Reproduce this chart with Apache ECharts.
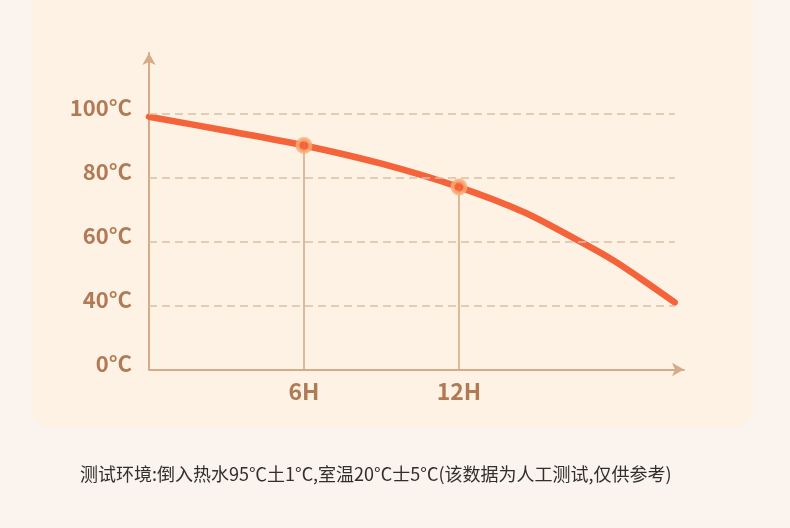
<!DOCTYPE html>
<html>
<head>
<meta charset="utf-8">
<script src="https://cdn.jsdelivr.net/npm/echarts@6/dist/echarts.min.js"></script>
<style>
html,body{margin:0;padding:0;background:#faf3ee;}
#chart{width:790px;height:528px;}
</style>
</head>
<body>
<div id="chart"></div>
<script>
// ---- data ----
const curveHours = [0, 3, 6, 9, 12, 14.5, 16.5, 18, 19, 20.35];
const curveTemps = [99, 94.6, 90, 84.3, 77, 69.2, 60.8, 54, 48.6, 41];
const markerHours = [6, 12];
const markerTemps = [90, 77];
const yTickValues = [20, 40, 60, 80, 100];
const yTickLabels = ['0°C', '40°C', '60°C', '80°C', '100°C'];
const gridLineTemps = [40, 60, 80, 100];
const gridLineEndHour = 20.35;
const xTickValues = [6, 12];
const xTickLabels = ['6H', '12H'];
const footnote = '测试环境:倒入热水95℃土1°C,室温20°C士5°C(该数据为人工测试,仅供参考)';

const chart = echarts.init(document.getElementById('chart'), null, {renderer: 'canvas'});

const labelColor = '#b07a55';
const axisColor = '#d6ab8a';

const option = {
  backgroundColor: '#faf3ee',
  animation: false,
  graphic: [
    {
      type: 'rect', z: -10, silent: true,
      shape: {x: 32, y: -30, width: 720, height: 458, r: 18},
      style: {fill: '#fdf2e4'}
    },
    {
      type: 'text', silent: true,
      left: 80, top: 465,
      style: {
        text: footnote,
        fontSize: 18,
        fontFamily: 'Noto Sans CJK SC',
        fill: '#2f2f2f'
      }
    }
  ],
  grid: {left: 149, right: 106, top: 53, bottom: 158.5, containLabel: false},
  xAxis: {
    type: 'value',
    min: 0,
    max: 20.71,
    interval: 6,
    axisLine: {
      show: true,
      symbol: ['none', 'arrow'],
      symbolSize: [10, 12],
      lineStyle: {color: axisColor, width: 2}
    },
    axisTick: {show: false},
    splitLine: {show: false},
    axisLabel: {
      margin: 10,
      fontSize: 23,
      fontWeight: 'bold',
      fontFamily: 'Noto Sans CJK SC',
      color: labelColor,
      formatter: function (v) {
        const i = xTickValues.indexOf(v);
        return i >= 0 ? xTickLabels[i] : '';
      }
    }
  },
  yAxis: {
    type: 'value',
    min: 20,
    max: 118.9,
    interval: 20,
    axisLine: {
      show: true,
      symbol: ['none', 'arrow'],
      symbolSize: [10, 12],
      lineStyle: {color: axisColor, width: 2}
    },
    axisTick: {show: false},
    splitLine: {show: false},
    axisLabel: {
      margin: 17,
      fontSize: 22,
      fontWeight: 'bold',
      fontFamily: 'Noto Sans CJK SC',
      color: labelColor,
      verticalAlign: 'bottom',
      lineHeight: 12,
      formatter: function (v) {
        const i = yTickValues.indexOf(v);
        return i >= 0 ? yTickLabels[i] : '';
      }
    }
  },
  series: [
    {
      type: 'line',
      data: [],
      z: 1,
      markLine: {
        silent: true,
        symbol: 'none',
        label: {show: false},
        lineStyle: {color: '#dcbfa6', width: 1.5, type: [8, 5]},
        data: gridLineTemps.map(t => [
          {coord: [0, t]},
          {coord: [gridLineEndHour, t]}
        ])
      }
    },
    {
      type: 'line',
      data: curveHours.map((h, i) => [h, curveTemps[i]]),
      smooth: 0.3,
      symbol: 'none',
      lineStyle: {color: '#f5633a', width: 6.5, cap: 'round'},
      z: 3,
      markLine: {
        silent: true,
        symbol: 'none',
        label: {show: false},
        lineStyle: {color: '#d6a582', width: 1.5, type: 'solid'},
        data: markerHours.map((h, i) => [
          {coord: [h, markerTemps[i]]},
          {coord: [h, 20]}
        ])
      }
    },
    {
      type: 'scatter',
      data: markerHours.map((h, i) => [h, markerTemps[i]]),
      symbol: 'circle',
      symbolSize: 13,
      itemStyle: {color: '#f5633a', borderColor: '#f7ae74', borderWidth: 4},
      z: 5
    }
  ]
};
chart.setOption(option);
</script>
</body>
</html>
